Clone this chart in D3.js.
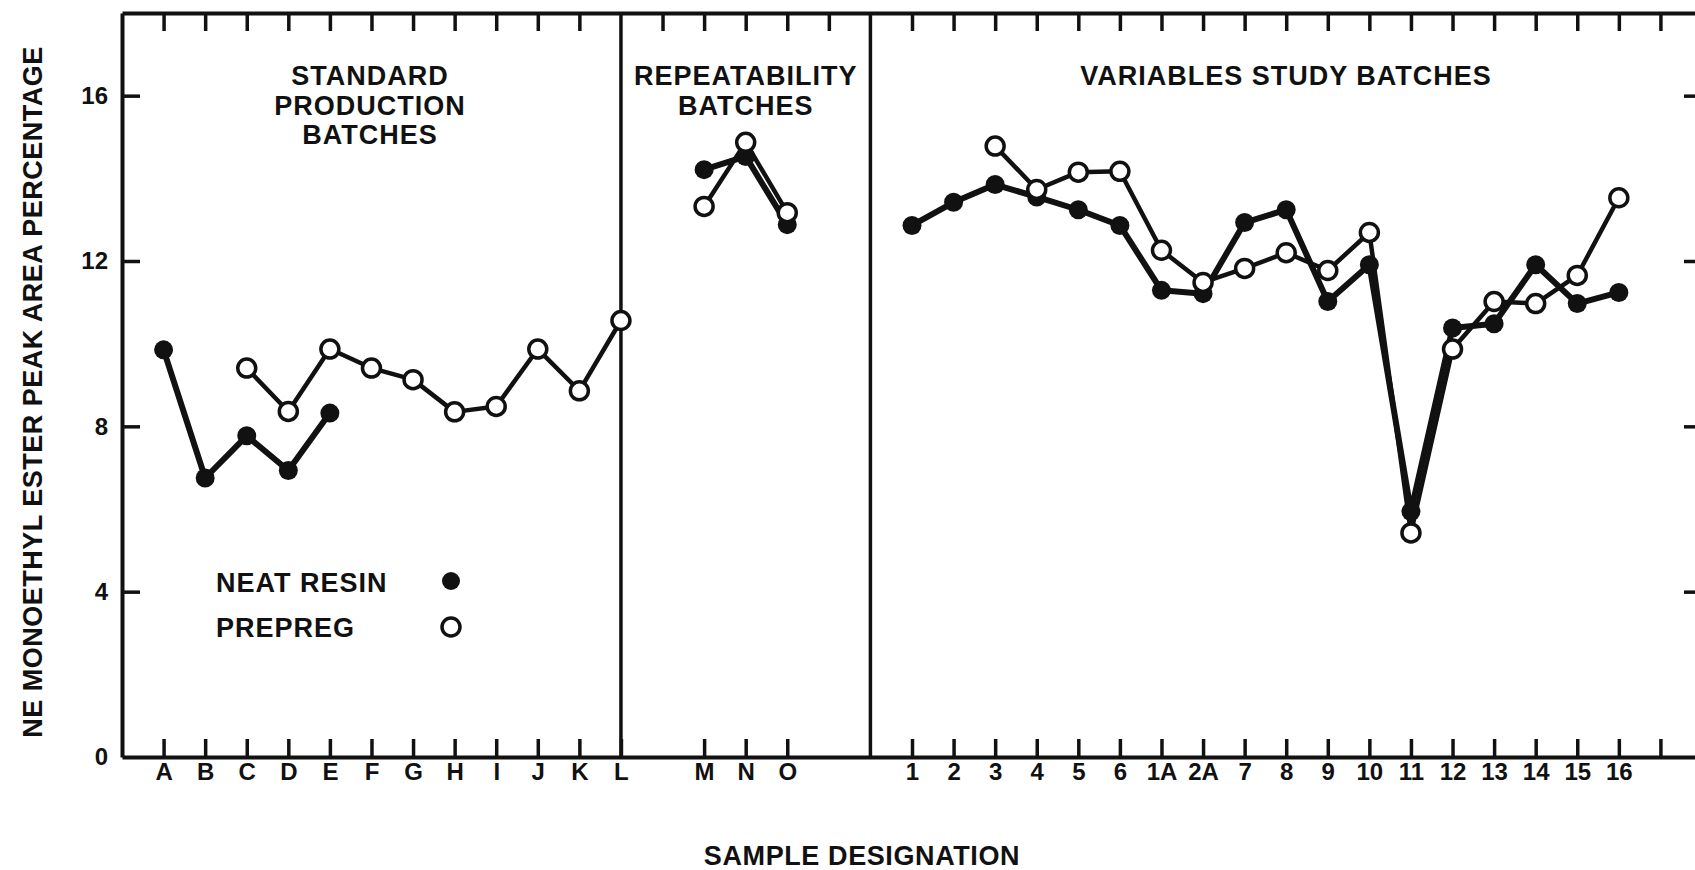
<!DOCTYPE html>
<html>
<head>
<meta charset="utf-8">
<script src="https://cdn.jsdelivr.net/npm/d3@7"></script>
<style>
  body { margin: 0; background: #fff; }
  svg text { font-family: "Liberation Sans", Arial, sans-serif; font-weight: bold; fill: #111; }
</style>
</head>
<body>
<div id="chart"></div>
<script>
//! DATA
const standardLabels = ['A', 'B', 'C', 'D', 'E', 'F', 'G', 'H', 'I', 'J', 'K', 'L'];
const standardNeat = [9.85, 6.75, 7.77, 6.93, 8.32, null, null, null, null, null, null, null];
const standardPrepreg = [null, null, 9.41, 8.36, 9.87, 9.41, 9.13, 8.35, 8.48, 9.87, 8.86, 10.56];

const repeatLabels = ['M', 'N', 'O'];
const repeatNeat = [14.21, 14.53, 12.88];
const repeatPrepreg = [13.32, 14.87, 13.17];

const variableLabels = ['1', '2', '3', '4', '5', '6', '1A', '2A', '7', '8', '9', '10', '11', '12', '13', '14', '15', '16'];
const variableNeat = [12.86, 13.42, 13.85, 13.55, 13.24, 12.86, 11.29, 11.21, 12.93, 13.24, 11.02, 11.91, 5.94, 10.38, 10.48, 11.91, 10.97, 11.24];
const variablePrepreg = [null, null, 14.78, 13.73, 14.15, 14.17, 12.26, 11.48, 11.82, 12.2, 11.77, 12.69, 5.42, 9.87, 11.02, 10.97, 11.65, 13.53];

const yTicks = [0, 4, 8, 12, 16];
const legendLabels = ['NEAT RESIN', 'PREPREG'];

//! CONSTS
const WIDTH = 1695;
const HEIGHT = 870;
const SLOTS = 38; // slot 0 = left axis, 38 = right frame (just off the page)
const TICK = 18;

// where each section starts on the slot grid
const groups = [
  { labels: standardLabels, neat: standardNeat, prepreg: standardPrepreg, start: 1,
    title: ['STANDARD', 'PRODUCTION', 'BATCHES'] },
  { labels: repeatLabels, neat: repeatNeat, prepreg: repeatPrepreg, start: 14,
    title: ['REPEATABILITY', 'BATCHES'] },
  { labels: variableLabels, neat: variableNeat, prepreg: variablePrepreg, start: 19,
    title: ['VARIABLES STUDY BATCHES'] }
];
const dividers = [12, 18];

//! SCALES
const x = d3.scaleLinear().domain([0, SLOTS]).range([122, 1702]);
const y = d3.scaleLinear().domain([0, 18]).range([757, 13]);

const labelOf = {};
groups.forEach(g => g.labels.forEach((l, i) => { labelOf[g.start + i] = l; }));

const bottomSlots = d3.range(1, 12).concat([14, 15, 16], d3.range(19, 38));
const topSlots = d3.range(1, 12).concat(d3.range(13, 18), d3.range(19, 38));

//! SVG
const svg = d3.select('#chart')
  .append('svg')
  .attr('width', WIDTH)
  .attr('height', HEIGHT);

function styleAxis(g, size) {
  g.select('.domain').attr('stroke', '#111').attr('stroke-width', 4);
  g.selectAll('.tick line').attr('stroke', '#111').attr('stroke-width', 3.5);
  g.selectAll('.tick text').attr('font-size', size).attr('fill', '#111');
}

// bottom axis with sample letters
svg.append('g')
  .attr('transform', `translate(0,${y(0)})`)
  .call(d3.axisBottom(x).tickValues(bottomSlots.concat([12])).tickSize(-TICK).tickSizeOuter(0)
    .tickPadding(6).tickFormat(s => labelOf[s] || ''))
  .call(g => styleAxis(g, 24));

// top frame
svg.append('g')
  .attr('transform', `translate(0,${y(18)})`)
  .call(d3.axisTop(x).tickValues(topSlots).tickSize(-TICK).tickSizeOuter(0).tickFormat(''))
  .call(g => styleAxis(g, 24));

// left axis
svg.append('g')
  .attr('transform', `translate(${x(0)},0)`)
  .call(d3.axisLeft(y).tickValues(yTicks).tickSize(-TICK).tickSizeOuter(0).tickPadding(14))
  .call(g => styleAxis(g, 24))
  .call(g => g.selectAll('.tick line').filter(d => d === 0).remove());

// right axis (frame sits just past the page edge)
svg.append('g')
  .attr('transform', `translate(${x(SLOTS)},0)`)
  .call(d3.axisRight(y).tickValues(yTicks.slice(1)).tickSize(-TICK).tickSizeOuter(0).tickFormat(''))
  .call(g => styleAxis(g, 24));

// section dividers
svg.append('g').selectAll('line')
  .data(dividers)
  .enter()
  .append('line')
  .attr('x1', d => x(d)).attr('x2', d => x(d))
  .attr('y1', y(18)).attr('y2', y(0))
  .attr('stroke', '#111')
  .attr('stroke-width', 3.5);

// section titles
groups.forEach((g, gi) => {
  const cx = gi === 0 ? 370 : gi === 1 ? x(15) : 1286;
  const t = svg.append('text')
    .attr('text-anchor', 'middle')
    .attr('font-size', 27)
    .attr('letter-spacing', 1)
    .attr('y', 85);
  g.title.forEach((line, i) => {
    t.append('tspan').attr('x', cx).attr('dy', i === 0 ? 0 : 29.5).text(line);
  });
});

//! SERIES
const line = d3.line()
  .defined(d => d.v != null)
  .x(d => x(d.slot))
  .y(d => y(d.v));

const seriesOf = key => groups.map(g => g[key].map((v, i) => ({ slot: g.start + i, v })));

const neat = seriesOf('neat');
const prepreg = seriesOf('prepreg');

svg.append('g').selectAll('path')
  .data(neat)
  .enter()
  .append('path')
  .attr('d', line)
  .attr('fill', 'none')
  .attr('stroke', '#111')
  .attr('stroke-width', 6)
  .attr('stroke-linejoin', 'round');

svg.append('g').selectAll('path')
  .data(prepreg)
  .enter()
  .append('path')
  .attr('d', line)
  .attr('fill', 'none')
  .attr('stroke', '#111')
  .attr('stroke-width', 4.5)
  .attr('stroke-linejoin', 'round');

svg.append('g').selectAll('circle')
  .data(neat.flat().filter(d => d.v != null))
  .enter()
  .append('circle')
  .attr('cx', d => x(d.slot))
  .attr('cy', d => y(d.v))
  .attr('r', 9.5)
  .attr('fill', '#111');

svg.append('g').selectAll('circle')
  .data(prepreg.flat().filter(d => d.v != null))
  .enter()
  .append('circle')
  .attr('cx', d => x(d.slot))
  .attr('cy', d => y(d.v))
  .attr('r', 9)
  .attr('fill', '#fff')
  .attr('stroke', '#111')
  .attr('stroke-width', 3.5);

//! LEGEND
const legend = svg.append('g').attr('transform', 'translate(216,582)');
legend.selectAll('text')
  .data(legendLabels)
  .enter()
  .append('text')
  .attr('x', 0)
  .attr('y', (d, i) => i * 45)
  .attr('dy', '0.36em')
  .attr('font-size', 27)
  .attr('letter-spacing', 1)
  .text(d => d);
legend.append('circle')
  .attr('cx', 235).attr('cy', -1).attr('r', 9)
  .attr('fill', '#111');
legend.append('circle')
  .attr('cx', 235).attr('cy', 45).attr('r', 9)
  .attr('fill', '#fff').attr('stroke', '#111').attr('stroke-width', 3.5);

//! AXIS TITLES
svg.append('text')
  .attr('x', 862)
  .attr('y', 865)
  .attr('text-anchor', 'middle')
  .attr('font-size', 27)
  .attr('letter-spacing', 0.6)
  .text('SAMPLE DESIGNATION');

svg.append('text')
  .attr('transform', 'translate(42,392) rotate(-90)')
  .attr('text-anchor', 'middle')
  .attr('font-size', 27)
  .attr('letter-spacing', 0.5)
  .text('NE MONOETHYL ESTER PEAK AREA PERCENTAGE');
</script>
</body>
</html>
